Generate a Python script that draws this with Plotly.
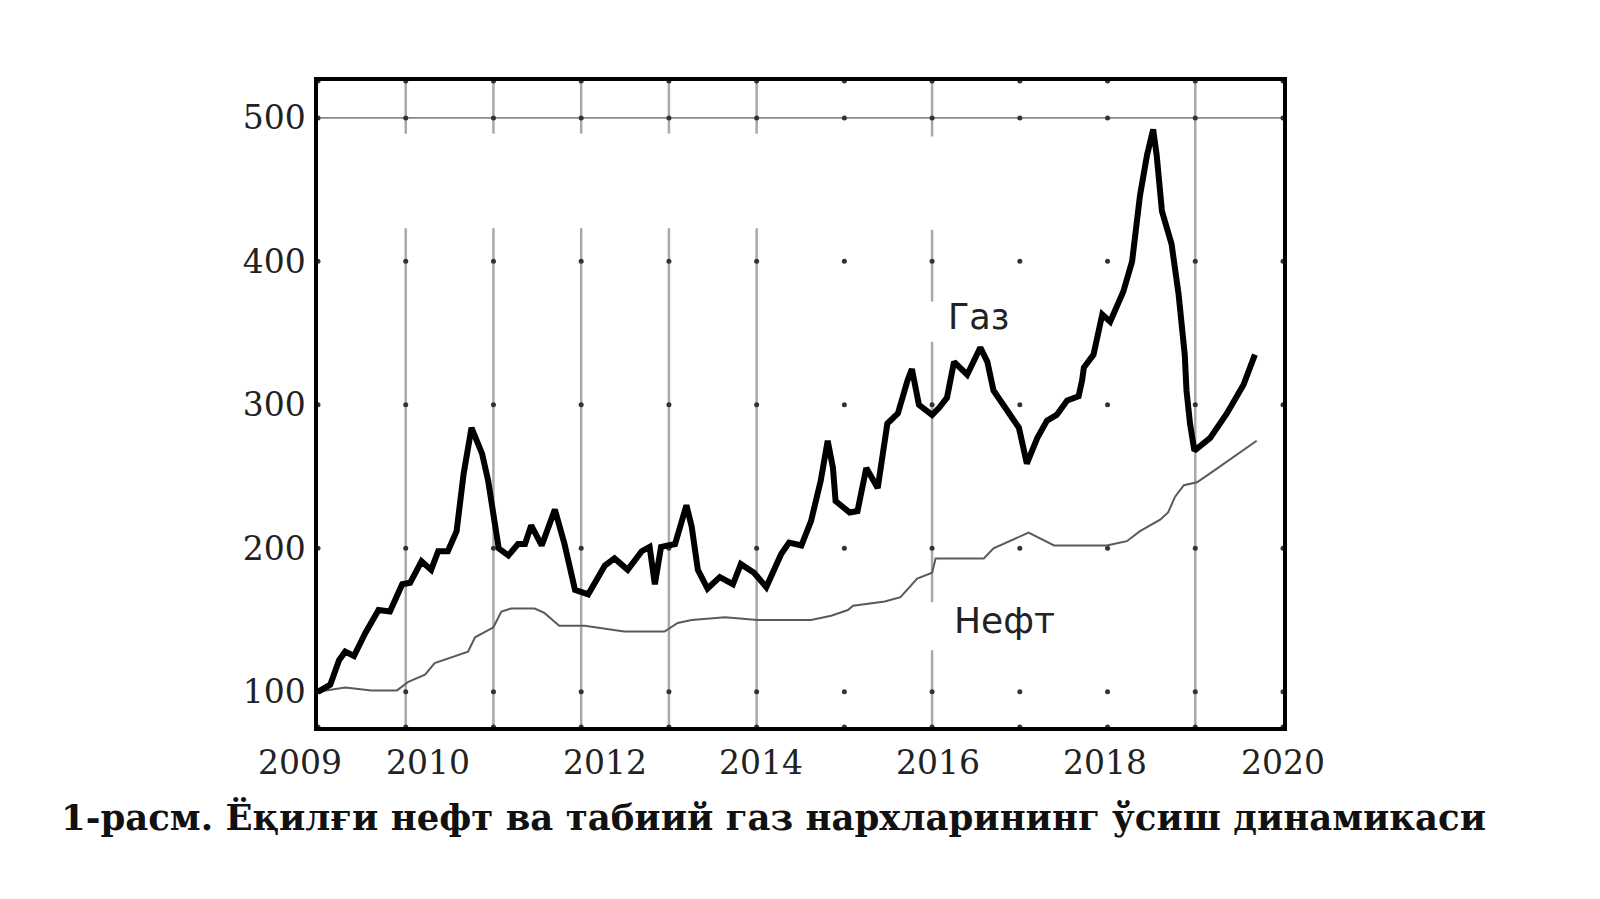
import plotly.graph_objects as go

# gas price index (thick line)
gas_years = [
    2009.00, 2009.14, 2009.24, 2009.31, 2009.41, 2009.54, 2009.69, 2009.82, 2009.96,
    2010.05, 2010.18, 2010.29, 2010.37, 2010.48, 2010.58, 2010.66, 2010.75, 2010.87, 2010.94,
    2011.02, 2011.06, 2011.17, 2011.28, 2011.36, 2011.43, 2011.55, 2011.70, 2011.81, 2011.93,
    2012.08, 2012.19, 2012.27, 2012.38, 2012.53, 2012.69, 2012.78, 2012.84, 2012.91,
    2013.07, 2013.20, 2013.26, 2013.33, 2013.44, 2013.58, 2013.73, 2013.82, 2013.97,
    2014.11, 2014.28, 2014.37, 2014.51, 2014.62, 2014.73, 2014.81, 2014.87, 2014.90,
    2015.06, 2015.15, 2015.25, 2015.38, 2015.49, 2015.61, 2015.72, 2015.77, 2015.85, 2015.93,
    2016.00, 2016.08, 2016.17, 2016.25, 2016.40, 2016.55, 2016.63, 2016.70, 2016.89, 2016.99,
    2017.08, 2017.20, 2017.31, 2017.42, 2017.54, 2017.67, 2017.71, 2017.73, 2017.84, 2017.94,
    2018.03, 2018.18, 2018.28, 2018.37, 2018.45, 2018.52, 2018.56, 2018.62, 2018.73, 2018.81,
    2018.88, 2018.90, 2018.94, 2018.99, 2019.17, 2019.36, 2019.55, 2019.68,
]
gas_index = [
    100, 105, 122, 128, 125, 141, 157, 156, 175,
    176, 191, 185, 198, 198, 212, 252, 284, 266, 247,
    219, 200, 195, 203, 203, 216, 202, 227, 203, 171,
    168, 180, 188, 193, 185, 198, 201, 175, 201,
    203, 230, 215, 185, 172, 180, 175, 189, 183,
    173, 196, 204, 202, 219, 247, 275, 256, 233,
    225, 226, 256, 242, 287, 294, 317, 325, 300, 296,
    293, 298, 305, 330, 321, 340, 330, 310, 293, 284,
    259, 277, 289, 293, 303, 306, 317, 326, 335, 363,
    358, 379, 400, 446, 474, 492, 474, 435, 412, 377,
    335, 310, 287, 268, 277, 294, 314, 335,
]

# oil price index (thin line)
oil_years = [
    2009.00, 2009.31, 2009.61, 2009.90, 2010.03, 2010.22, 2010.33, 2010.52, 2010.71, 2010.79,
    2011.00, 2011.09, 2011.20, 2011.47, 2011.58, 2011.75, 2012.04, 2012.49, 2012.95, 2013.10,
    2013.26, 2013.64, 2014.01, 2014.62, 2014.85, 2015.04, 2015.10, 2015.46, 2015.64, 2015.83,
    2016.00, 2016.04, 2016.59, 2016.70, 2017.10, 2017.39, 2017.99, 2018.07, 2018.22, 2018.37,
    2018.60, 2018.69, 2018.77, 2018.87, 2019.02, 2019.21, 2019.70,
]
oil_index = [
    100, 103, 101, 101, 107, 112, 120, 124, 128, 138,
    145, 156, 158, 158, 155, 146, 146, 142, 142, 148,
    150, 152, 150, 150, 153, 157, 160, 163, 166, 179,
    183, 193, 193, 200, 211, 202, 202, 203, 205, 212,
    220, 225, 236, 244, 246, 254, 275,
]

x_ticks = [2009, 2010, 2012, 2014, 2016, 2018, 2020]
y_ticks = [100, 200, 300, 400, 500]
grid_years = list(range(2010, 2020))
gas_label = "Газ"
oil_label = "Нефт"
caption = "1-расм. Ёқилғи нефт ва табиий газ нархларининг ўсиш динамикаси"

X_RANGE = [2009, 2020]
Y_RANGE = [75.5, 525.7]

# the year labels in the picture sit a little off their grid lines (pixels)
x_label_shift = {2009: -18, 2010: 22, 2012: 24, 2014: 4, 2016: 6, 2018: -3, 2020: 0}

# vertical grid pieces (gaps where the original picture was blanked)
grid_segments = {
    2010: [(489, Y_RANGE[1]), (Y_RANGE[0], 423)],
    2011: [(489, Y_RANGE[1]), (Y_RANGE[0], 423)],
    2012: [(489, Y_RANGE[1]), (Y_RANGE[0], 423)],
    2013: [(489, Y_RANGE[1]), (Y_RANGE[0], 423)],
    2014: [(489, Y_RANGE[1]), (Y_RANGE[0], 423)],
    2016: [(487, Y_RANGE[1]), (372, 422), (162.5, 344), (Y_RANGE[0], 129)],
    2019: [(Y_RANGE[0], Y_RANGE[1])],
}

fig = go.Figure()

for yr, segs in grid_segments.items():
    for y0, y1 in segs:
        fig.add_shape(type="line", xref="x", yref="y", x0=yr, x1=yr, y0=y0, y1=y1,
                      line=dict(color="#a9a9a9", width=2.5), layer="below")

fig.add_shape(type="line", xref="x", yref="y", x0=X_RANGE[0], x1=X_RANGE[1], y0=500, y1=500,
              line=dict(color="#8a8a8a", width=1.8), layer="below")

# small dots where the grid crosses
dot_x, dot_y = [], []
for yr in [X_RANGE[0]] + grid_years + [X_RANGE[1]]:
    for v in y_ticks + Y_RANGE:
        dot_x.append(yr)
        dot_y.append(v)
fig.add_trace(go.Scatter(x=dot_x, y=dot_y, mode="markers", cliponaxis=False,
                         marker=dict(size=5, color="#333333"), hoverinfo="skip", showlegend=False))

fig.add_trace(go.Scatter(x=oil_years, y=oil_index, mode="lines", name=oil_label,
                         line=dict(color="#5a5a5a", width=2), showlegend=False))
fig.add_trace(go.Scatter(x=gas_years, y=gas_index, mode="lines", name=gas_label,
                         line=dict(color="#000000", width=6), showlegend=False))

fig.add_annotation(x=2016.53, y=361, xref="x", yref="y", text=gas_label, showarrow=False,
                   font=dict(family="DejaVu Sans", size=35, color="#222222"))
fig.add_annotation(x=2016.82, y=150, xref="x", yref="y", text=oil_label, showarrow=False,
                   font=dict(family="DejaVu Sans", size=36, color="#222222"))
fig.add_annotation(x=0.4716, y=-0.14, xref="paper", yref="paper", text="<b>" + caption + "</b>",
                   showarrow=False, xanchor="center", yanchor="middle",
                   font=dict(family="DejaVu Serif", size=35.5, color="#111111"))

axis_font = dict(family="DejaVu Serif", size=33, color="#222222")
for t in x_ticks:
    fig.add_annotation(x=t, y=0, xref="x", yref="paper", text=str(t), showarrow=False,
                       xanchor="center", yanchor="top", xshift=x_label_shift[t], yshift=-14,
                       font=axis_font)

fig.update_layout(
    width=1584, height=883,
    margin=dict(l=310, r=309, t=73, b=164),
    paper_bgcolor="white", plot_bgcolor="white",
    showlegend=False,
    xaxis=dict(range=X_RANGE, showticklabels=False,
               showgrid=False, zeroline=False, showline=True, mirror=True,
               linecolor="black", linewidth=3.5, ticks=""),
    yaxis=dict(range=Y_RANGE, tickvals=y_ticks, ticktext=[str(t) for t in y_ticks],
               showgrid=False, zeroline=False, showline=True, mirror=True,
               linecolor="black", linewidth=3.5, ticks="", tickfont=axis_font,
               ticklabelstandoff=2),
)

fig.write_html("out.html")
